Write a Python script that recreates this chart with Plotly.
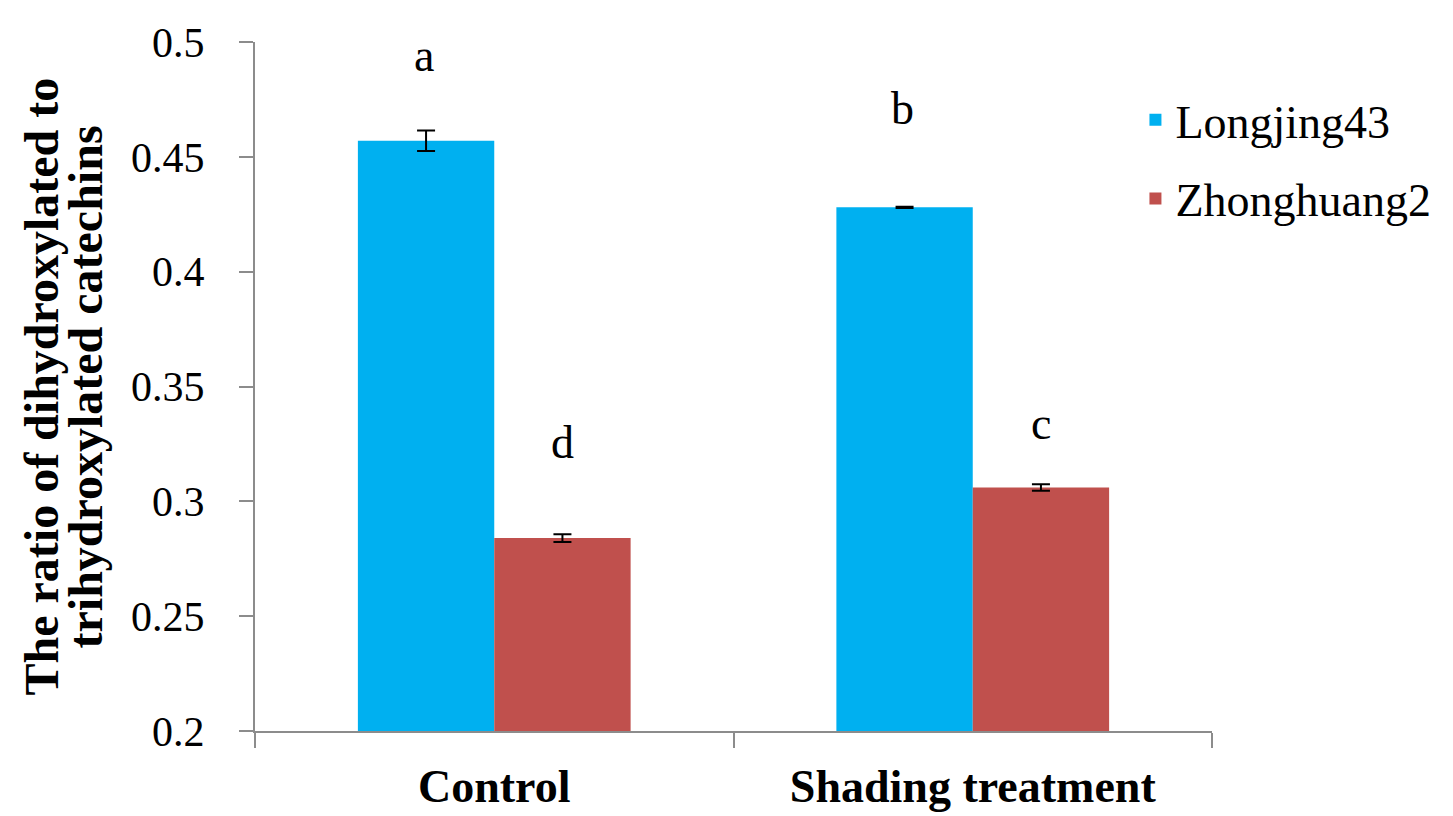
import plotly.graph_objects as go

categories = ["Control", "Shading treatment"]
series_names = ["Longjing43", "Zhonghuang2"]
longjing43 = [0.457, 0.428]
longjing43_err = [0.0045, 0.0003]
zhonghuang2 = [0.284, 0.306]
zhonghuang2_err = [0.0017, 0.0014]
letters_longjing43 = ["a", "b"]
letters_zhonghuang2 = ["d", "c"]
letter_y_longjing43 = [0.494, 0.471]
letter_y_zhonghuang2 = [0.3255, 0.334]
y_ticks = [0.2, 0.25, 0.3, 0.35, 0.4, 0.45, 0.5]
y_tick_text = ["0.2", "0.25", "0.3", "0.35", "0.4", "0.45", "0.5"]
y_title_lines = ["The ratio of dihydroxylated to", "trihydroxylated catechins"]

colors = ["#00B0F0", "#C0504D"]
serif = "Liberation Serif, Times New Roman, serif"
axis_gray = "#8C8C8C"

fig = go.Figure()
for name, vals, errs, col in [
    (series_names[0], longjing43, longjing43_err, colors[0]),
    (series_names[1], zhonghuang2, zhonghuang2_err, colors[1]),
]:
    fig.add_trace(go.Bar(
        name=name, legendgroup=name, x=categories, y=vals,
        marker=dict(color=col, line=dict(width=0)),
        error_y=dict(type="data", array=errs, visible=True, color="black", thickness=2, width=9),
    ))

annotations = []
for cat, lab, yy in zip(categories, letters_longjing43, letter_y_longjing43):
    annotations.append(dict(x=cat, y=yy, xref="x", yref="y", text=lab, showarrow=False,
                            xshift=-70, font=dict(family=serif, size=46, color="black")))
for cat, lab, yy in zip(categories, letters_zhonghuang2, letter_y_zhonghuang2):
    annotations.append(dict(x=cat, y=yy, xref="x", yref="y", text=lab, showarrow=False,
                            xshift=68, font=dict(family=serif, size=46, color="black")))

# two-line y-axis title with tight line spacing
for line, xp in zip(y_title_lines, [-0.2236, -0.1766]):
    annotations.append(dict(x=xp, y=0.5, xref="paper", yref="paper", text=line,
                            textangle=-90, showarrow=False, xanchor="center", yanchor="middle",
                            font=dict(family=serif, size=48, color="black", weight="bold")))

fig.update_layout(
    width=1453, height=816,
    margin=dict(l=247, r=249, t=30, b=81),
    plot_bgcolor="white", paper_bgcolor="white",
    barmode="group", bargap=0.43, bargroupgap=0,
    font=dict(family=serif, color="black"),
    legend=dict(x=0.92, y=0.94, xanchor="left", yanchor="top",
                font=dict(family=serif, size=46, color="black"),
                bgcolor="rgba(0,0,0,0)", tracegroupgap=16),
    annotations=annotations,
    xaxis=dict(
        type="category", range=[-0.5, 1.5], showgrid=False,
        showline=True, linecolor=axis_gray, linewidth=2,
        ticks="outside", tickson="boundaries", ticklen=15, tickcolor=axis_gray, tickwidth=2,
        tickfont=dict(family=serif, size=46, color="black", weight="bold"),
        ticklabelstandoff=14,
    ),
    yaxis=dict(
        range=[0.2, 0.5], showgrid=False, zeroline=False,
        showline=True, linecolor=axis_gray, linewidth=2,
        ticks="outside", ticklen=14, tickcolor=axis_gray, tickwidth=2,
        tickvals=y_ticks, ticktext=y_tick_text,
        tickfont=dict(family=serif, size=42, color="black"),
        ticklabelstandoff=26,
    ),
)

fig.write_html("out.html")
